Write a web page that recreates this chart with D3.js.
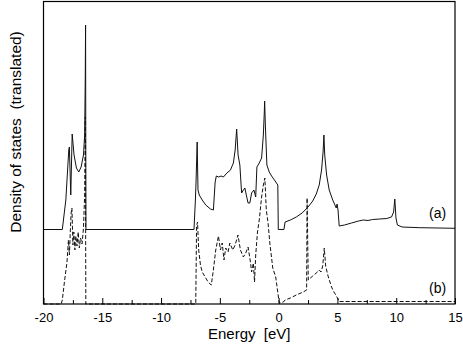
<!DOCTYPE html>
<html>
<head>
<meta charset="utf-8">
<script src="https://cdn.jsdelivr.net/npm/d3@7"></script>
<style>
  html, body { margin: 0; padding: 0; background: #fff; }
  svg { display: block; font-family: "Liberation Sans", Arial, sans-serif; }
</style>
</head>
<body>
<svg id="chart" width="463" height="354"></svg>
<script>
// ========= Data =========
// (a) total DOS, shifted up
const energyA = [-20, -18.4, -18.1, -17.85, -17.8, -17.68, -17.56, -17.4, -17.2, -17.0, -16.8, -16.6, -16.5, -16.45, -16.42, -16.39,
  -7.2, -7.08, -7.02, -6.93, -6.86, -6.75, -6.5, -6.2, -5.8, -5.55, -5.4, -5.3, -5.1, -4.9, -4.7, -4.4, -4.1, -3.85, -3.7, -3.57,
  -3.45, -3.3, -3.15, -3.0, -2.87, -2.75, -2.6, -2.45, -2.3, -2.1, -1.95, -1.85, -1.65, -1.45, -1.3, -1.22, -1.19, -1.13, -1.0,
  -0.8, -0.6, -0.3, -0.07, -0.03, 0.45, 0.55, 1.0, 1.5, 2.0, 2.5, 2.9, 3.2, 3.45, 3.65, 3.78, 3.85, 3.92, 4.08, 4.3, 4.6, 4.9,
  4.97, 5.05, 5.15, 5.6, 6.2, 6.8, 7.2, 7.6, 8.0, 8.6, 9.2, 9.6, 9.78, 9.88, 9.98, 10.1, 10.5, 12, 15];
const dosA = [0.745, 0.745, 1.04, 1.54, 1.57, 1.09, 1.70, 1.49, 1.36, 1.32, 1.37, 1.49, 1.69, 2.24, 2.79, 0.745,
  0.745, 1.04, 1.24, 1.62, 1.14, 1.09, 1.04, 0.99, 0.95, 0.94, 1.22, 1.28, 1.27, 1.28, 1.27, 1.31, 1.34, 1.41, 1.54, 1.75,
  1.49, 1.39, 1.11, 1.14, 1.16, 1.09, 1.01, 1.01, 1.11, 1.14, 1.07, 1.37, 1.41, 1.46, 1.69, 1.92, 2.03, 1.79, 1.39,
  1.32, 1.28, 1.23, 1.19, 0.745, 0.745, 0.82, 0.84, 0.87, 0.91, 0.97, 1.03, 1.10, 1.19, 1.34, 1.52, 1.69, 1.49, 1.29, 1.14, 1.04, 0.96,
  1.00, 0.94, 0.78, 0.79, 0.81, 0.83, 0.84, 0.835, 0.845, 0.85, 0.855, 0.87, 0.92, 1.05, 0.86, 0.79, 0.77, 0.763, 0.757];

// (b) partial DOS
const energyB = [-20, -18.5, -18.4, -18.2, -18.0, -17.88, -17.8, -17.72, -17.65, -17.58, -17.5, -17.42, -17.33, -17.25, -17.15,
  -17.05, -16.95, -16.85, -16.72, -16.6, -16.5, -16.44, -16.4,
  -7.05, -6.98, -6.9, -6.8, -6.65, -6.5, -6.3, -6.0, -5.73, -5.55, -5.35, -5.12, -4.95, -4.8, -4.65, -4.5, -4.3, -4.15, -3.9,
  -3.7, -3.46, -3.25, -3.0, -2.8, -2.6, -2.4, -2.3, -2.15, -2.05, -1.95, -1.8, -1.65, -1.45, -1.3, -1.17, -1.05, -0.9, -0.75,
  -0.5, -0.25, -0.1, 0.05, 0.4, 0.55, 1.0, 1.5, 2.09, 2.38, 2.42, 2.52, 2.9, 3.3, 3.45, 3.6, 3.75, 3.88, 4.0, 4.2, 4.5, 4.7,
  4.87, 5.15, 15];
const dosB = [0, 0, 0.04, 0.24, 0.42, 0.64, 0.49, 0.72, 0.91, 0.96, 0.59, 0.72, 0.54, 0.68, 0.58,
  0.72, 0.56, 0.66, 0.60, 0.76, 1.09, 1.87, 0,
  0, 0.78, 0.82, 0.54, 0.39, 0.32, 0.28, 0.22, 0.19, 0.34, 0.54, 0.68, 0.54, 0.61, 0.44, 0.56, 0.52, 0.61, 0.54,
  0.59, 0.69, 0.54, 0.47, 0.51, 0.57, 0.42, 0.32, 0.41, 0.22, 0.49, 0.72, 0.84, 1.07, 1.19, 1.26, 0.94, 0.81, 0.61,
  0.36, 0.27, 0.14, 0.01, 0.02, 0.04, 0.06, 0.09, 0.12, 0.14, 1.06, 0.24, 0.28, 0.32, 0.34, 0.32, 0.38, 0.56, 0.38, 0.28, 0.17, 0.12,
  0.09, 0.025, 0.025];

const majorTicks = [-20, -15, -10, -5, 0, 5, 10, 15];
const minorTicks = [-17.5, -12.5, -7.5, -2.5, 2.5, 7.5, 12.5];
const curveLabels = ["(a)", "(b)"];

// ========= Layout =========
const svg = d3.select("#chart");
const plot = { left: 43.5, right: 455, top: 1.5, bottom: 304 };

const x = d3.scaleLinear().domain([-20, 15]).range([plot.left, plot.right]);
const y = d3.scaleLinear().domain([0, 3.025]).range([plot.bottom, plot.top]);

const line = d3.line().x(d => x(d[0])).y(d => y(d[1]));

// ========= Curves =========
svg.append("path")
  .datum(d3.zip(energyB, dosB))
  .attr("d", line)
  .attr("fill", "none")
  .attr("stroke", "#111")
  .attr("stroke-width", 1)
  .attr("stroke-dasharray", "4,2");

svg.append("path")
  .datum(d3.zip(energyA, dosA))
  .attr("d", line)
  .attr("fill", "none")
  .attr("stroke", "#111")
  .attr("stroke-width", 1);

// ========= Frame + axis =========
svg.append("rect")
  .attr("x", plot.left)
  .attr("y", plot.top)
  .attr("width", plot.right - plot.left)
  .attr("height", plot.bottom - plot.top)
  .attr("fill", "none")
  .attr("stroke", "#000")
  .attr("stroke-width", 1.2);

const gMajor = svg.append("g")
  .attr("transform", `translate(0,${plot.bottom})`)
  .call(d3.axisBottom(x).tickValues(majorTicks).tickSizeInner(-6).tickSizeOuter(0).tickPadding(9).tickFormat(d3.format("d")));
gMajor.select(".domain").remove();
gMajor.selectAll("line").attr("stroke", "#000");
gMajor.selectAll("text")
  .attr("font-size", 13)
  .attr("font-family", "Liberation Sans, Arial, sans-serif")
  .attr("fill", "#000")
  .text(d => (d < 0 ? "-" + Math.abs(d) : d)); // plain hyphen like the original

const gMinor = svg.append("g")
  .attr("transform", `translate(0,${plot.bottom})`)
  .call(d3.axisBottom(x).tickValues(minorTicks).tickSizeInner(-4).tickSizeOuter(0).tickFormat(""));
gMinor.select(".domain").remove();
gMinor.selectAll("line").attr("stroke", "#000");

// ========= Titles =========
svg.append("text")
  .attr("x", (plot.left + plot.right) / 2)
  .attr("y", 339)
  .attr("text-anchor", "middle")
  .attr("font-size", 15)
  .style("white-space", "pre")
  .text("Energy  [eV]");

svg.append("text")
  .attr("transform", "translate(20.5,132) rotate(-90)")
  .attr("text-anchor", "middle")
  .attr("font-size", 15.5)
  .style("white-space", "pre")
  .text("Density of states  (translated)");

// curve labels
svg.selectAll(".curve-label")
  .data(curveLabels)
  .join("text")
  .attr("class", "curve-label")
  .attr("x", 429)
  .attr("y", (d, i) => [218, 293][i])
  .attr("font-size", 14)
  .text(d => d);
</script>
</body>
</html>
